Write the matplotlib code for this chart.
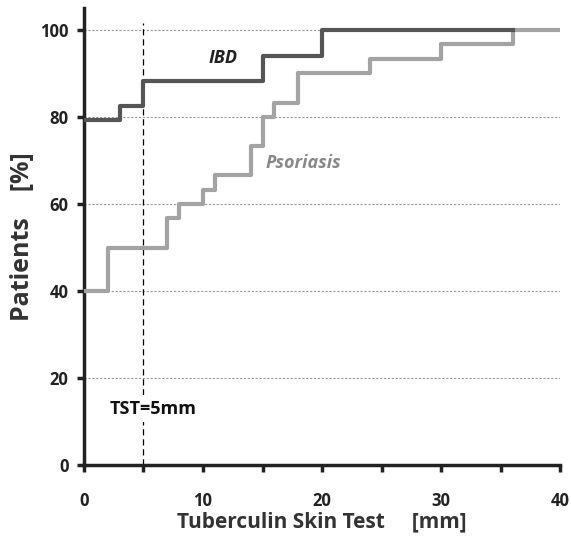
import matplotlib.pyplot as plt

# -- data
ibd_x = [0, 3, 5, 15, 20, 36]
ibd_y = [79.4, 82.4, 88.2, 94.1, 100, 100]

pso_x = [0, 2, 7, 8, 10, 11, 14, 15, 16, 18, 24, 30, 36, 40]
pso_y = [40, 50, 56.7, 60, 63.3, 66.7, 73.3, 80, 83.3, 90, 93.3, 96.7, 100, 100]

x_ticks = [0, 10, 20, 30, 40]
y_ticks = [0, 20, 40, 60, 80, 100]
tst_cut = 5

plt.rcParams['font.family'] = ['Open Sans', 'DejaVu Sans']

fig = plt.figure(figsize=(5.71, 5.39), dpi=100)
ax = fig.add_axes([0.147, 0.137, 0.834, 0.848])

# grid lines
for yv in y_ticks[1:]:
    ax.axhline(yv, color='#999999', lw=0.8, ls=(0, (2, 1.5)), zorder=1)

ax.plot(pso_x, pso_y, drawstyle='steps-post', color='#a3a3a3', lw=3, zorder=3)
ax.plot(ibd_x, ibd_y, drawstyle='steps-post', color='#555555', lw=3, zorder=4)

ax.plot([tst_cut, tst_cut], [0, 101.5], color='black', lw=0.9, ls=(0, (5, 3)), zorder=2)

ax.text(11.7, 93.6, 'IBD', fontsize=13, fontweight='bold', style='italic',
        color='#222222', ha='center', va='center')
ax.text(18.4, 69.4, 'Psoriasis', fontsize=13, fontweight='bold', style='italic',
        color='#888888', ha='center', va='center')
ax.text(5.8, 13.0, 'TST=5mm', fontsize=13, fontweight='bold', color='#111111',
        ha='center', va='center',
        bbox=dict(facecolor='white', edgecolor='none', pad=3), zorder=5)

ax.set_xlim(0, 40)
ax.set_ylim(0, 105)
ax.set_xticks(range(0, 41, 5))
ax.set_xticklabels([str(v) if v in x_ticks else '' for v in range(0, 41, 5)])
ax.set_yticks(y_ticks)

for s in ['top', 'right']:
    ax.spines[s].set_visible(False)
for s in ['left', 'bottom']:
    ax.spines[s].set_linewidth(2.5)
    ax.spines[s].set_color('#222222')
ax.spines['bottom'].set_position(('data', 0))

ax.tick_params(axis='both', direction='out', length=5, width=2.5, color='#222222',
               labelsize=12, pad=14)
ax.tick_params(axis='y', pad=6)
for lab in ax.get_xticklabels() + ax.get_yticklabels():
    lab.set_fontweight('bold')
    lab.set_color('#222222')

ax.set_xlabel('Tuberculin Skin Test     [mm]', fontsize=15, fontweight='bold',
              color='#333333', labelpad=1)
ax.set_ylabel('Patients    [%]', fontsize=18, fontweight='bold',
              color='#333333', labelpad=4)

fig.savefig('out.png', dpi=100)
